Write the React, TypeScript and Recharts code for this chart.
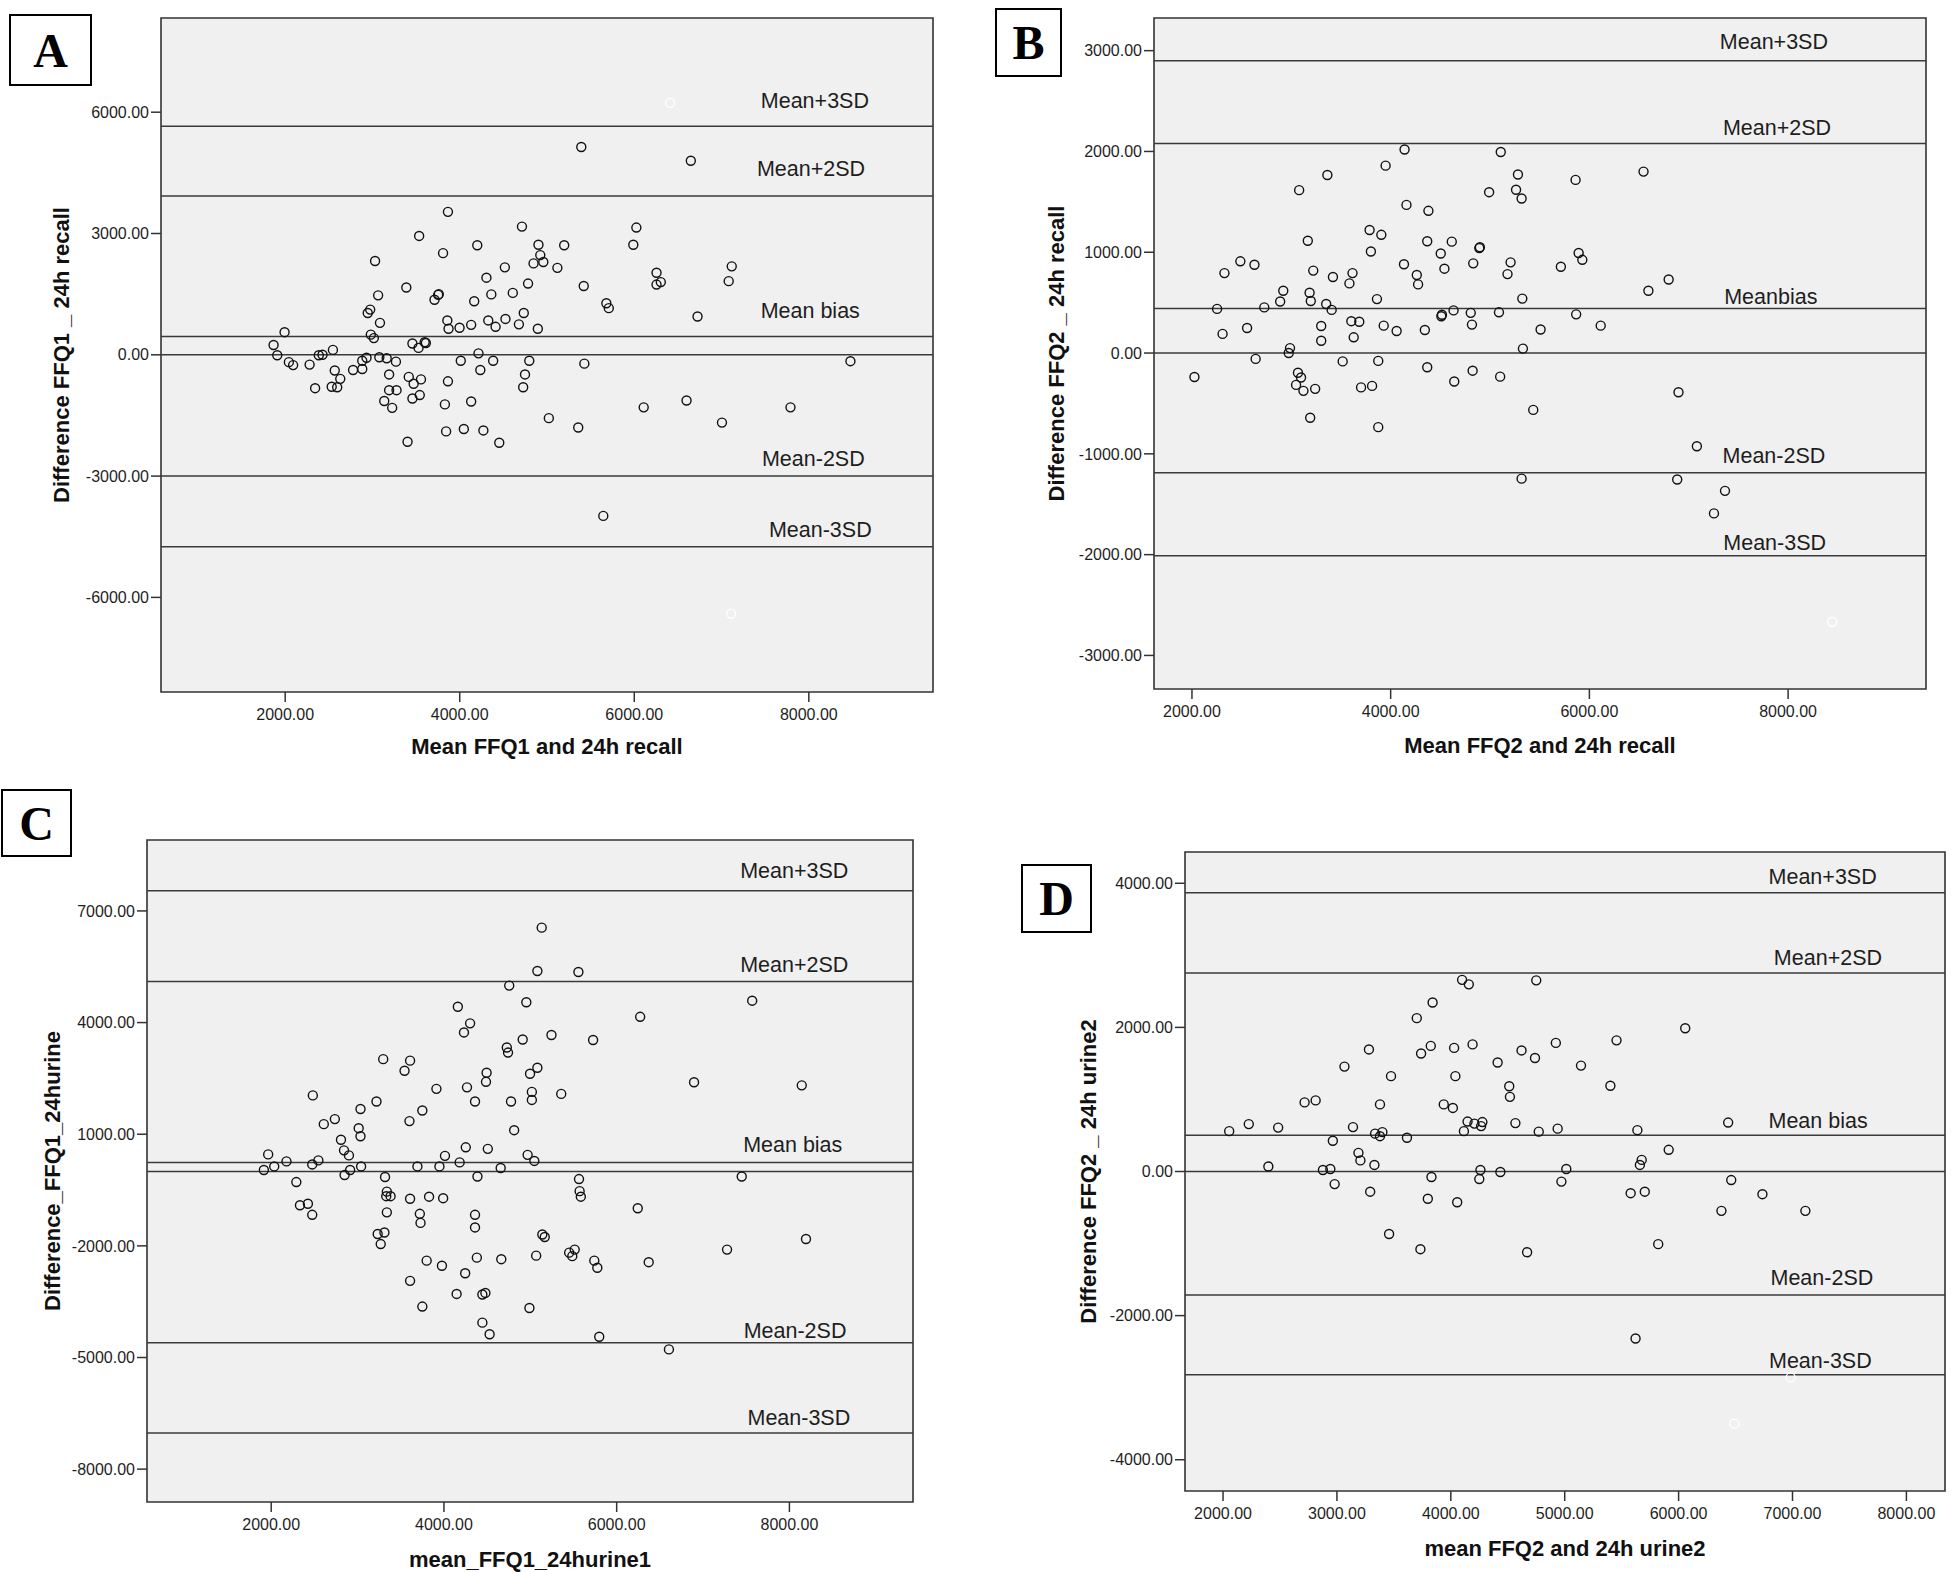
import React from "react";
import {
  ScatterChart,
  Scatter,
  XAxis,
  YAxis,
  ReferenceLine,
  ReferenceArea,
} from "recharts";

const FONT = '"Liberation Sans", Arial, sans-serif';
const SERIF = '"Liberation Serif", "Times New Roman", serif';

// ---- Panel A: FFQ1 vs 24h recall ----
const meanA = [
  1867, 1909, 1993, 2042, 2091, 2280, 2343, 2385, 2428, 2547,
  2568, 2533, 2596, 2631, 2778, 2883, 2883, 2932, 2946, 2974,
  2981, 3016, 3030, 3065, 3086, 3079, 3163, 3191, 3269, 3135,
  3191, 3276, 3226, 3388, 3402, 3416, 3458, 3472, 3458, 3528,
  3535, 3556, 3542, 3612, 3598, 3711, 3753, 3760, 3809, 3830,
  3844, 3858, 3872, 3865, 3865, 3998, 4012, 4047, 4131, 4131,
  4166, 4201, 4215, 4236, 4271, 4306, 4327, 4362, 4383, 4411,
  4453, 4517, 4524, 4608, 4678, 4713, 4734, 4727, 4748, 4783,
  4797, 4846, 4895, 4902, 4923, 4958, 5021, 5119, 5197, 5358,
  5393, 5421, 5428, 5645, 5680, 5708, 5989, 6024, 6108, 6255,
  6255, 6304, 6599, 6648, 6725, 7005, 7082, 7117, 7790, 8477,
];
const diffA = [
  243, -12, 559, -182, -255, -243, -826, -12, 0, 121,
  -389, -790, -802, -595, -377, -352, -146, -73, 1033, 1118,
  498, 413, 2320, 1470, 790, -61, -85, -486, -170, -1142,
  -875, -875, -1312, 1665, -2151, -547, 279, -717, -1081, 170,
  2940, -608, -996, 292, 310, 1361, 1482, 1500, 2515, -1227,
  -1895, 850, 644, -656, 3535, 668, -146, -1835, 741, -1154,
  1324, 2709, 36, -377, -1871, 1907, 850, 1494, -146, 692,
  -2175, 2163, 887, 1531, 753, 3171, 1033, -802, -486, 1762,
  -146, 2260, 644, 2722, 2466, 2296, -1567, 2150, 2709, -1798,
  5139, 1701, -219, -3985, 1276, 1154, 2722, 3147, -1300, 2029,
  1737, 1798, -1130, 4799, 948, -1677, 1822, 2187, -1300, -158,
];
const hiddenMeanA = [6410, 7110];
const hiddenDiffA = [6230, -6400];
const limitsA = [5650, 3925, 450, 0, -3000, -4750];
const limitNamesA = ["Mean+3SD", "Mean+2SD", "Mean bias", "", "Mean-2SD", "Mean-3SD"];
const xTicksA = [2000, 4000, 6000, 8000];
const yTicksA = [-6000, -3000, 0, 3000, 6000];

// ---- Panel B: FFQ2 vs 24h recall ----
const meanB = [
  2025, 2253, 2308, 2327, 2487, 2555, 2629, 2641, 2728, 2888,
  2919, 2974, 2987, 3079, 3067, 3098, 3048, 3122, 3166, 3184,
  3196, 3221, 3190, 3240, 3301, 3301, 3351, 3363, 3406, 3419,
  3517, 3585, 3604, 3616, 3628, 3684, 3702, 3788, 3801, 3813,
  3862, 3875, 3875, 3906, 3930, 3949, 4060, 4134, 4140, 4159,
  4263, 4276, 4344, 4368, 4368, 4380, 4504, 4510, 4516, 4541,
  4615, 4633, 4640, 4806, 4818, 4825, 4831, 4892, 4898, 4991,
  5090, 5102, 5108, 5176, 5207, 5262, 5281, 5318, 5325, 5331,
  5318, 5435, 5509, 5713, 5861, 5867, 5892, 5929, 6114, 6545,
  6594, 6798, 6897, 6884, 7082, 7254, 7365,
];
const diffB = [
  -238, 438, 190, 793, 910, 248, 876, -58, 453, 511,
  618, 0, 49, 1616, -195, -243, -316, -375, 1114, 598,
  516, 818, -642, -355, 268, 122, 487, 1766, 428, 754,
  -83, 691, 316, 793, 156, 311, -341, 1221, 1007, -326,
  535, -78, -735, 1173, 272, 1859, 219, 881, 2019, 1470,
  774, 681, 229, -141, 1109, 1411, 988, 365, 380, 837,
  1105, 423, -282, 399, 282, -175, 890, 1041, 1050, 1596,
  404, -234, 1995, 783, 900, 1620, 1771, 1533, 540, 44,
  -1246, -564, 234, 856, 1718, 384, 993, 925, 272, 1800,
  618, 730, -389, -1255, -925, -1591, -1367,
];
const hiddenMeanB = [8444];
const hiddenDiffB = [-2667];
const limitsB = [2900, 2078, 443, 0, -1187, -2010];
const limitNamesB = ["Mean+3SD", "Mean+2SD", "Meanbias", "", "Mean-2SD", "Mean-3SD"];
const xTicksB = [2000, 4000, 6000, 8000];
const yTicksB = [-3000, -2000, -1000, 0, 1000, 2000, 3000];

// ---- Panel C: FFQ1 vs 24h urine ----
const meanC = [
  1915, 1965, 2035, 2177, 2291, 2333, 2425, 2475, 2475, 2482,
  2546, 2609, 2737, 2808, 2843, 2850, 2900, 2914, 3013, 3034,
  3034, 3041, 3219, 3233, 3268, 3297, 3311, 3318, 3332, 3339,
  3339, 3382, 3544, 3608, 3601, 3608, 3608, 3693, 3721, 3729,
  3750, 3750, 3800, 3828, 3913, 3948, 3977, 3991, 4012, 4147,
  4161, 4182, 4232, 4246, 4253, 4267, 4303, 4360, 4360, 4360,
  4381, 4388, 4445, 4445, 4480, 4487, 4494, 4508, 4529, 4657,
  4664, 4728, 4742, 4756, 4777, 4813, 4912, 4954, 4969, 4990,
  4997, 5018, 5018, 5047, 5068, 5082, 5082, 5132, 5139, 5167,
  5245, 5358, 5450, 5486, 5514, 5557, 5564, 5571, 5585, 5727,
  5741, 5776, 5798, 6244, 6272, 6371, 6605, 6896, 7278, 7448,
  7569, 8143, 8192,
];
const diffC = [
  39, 458, 134, 269, -286, -909, -869, -1166, 188, 2043,
  296, 1271, 1406, 851, 567, -97, 431, 39, 1162, 946,
  1677, 134, 1880, -1681, -1952, 3017, -1640, -151, -665, -544,
  -1099, -665, 2706, 2977, 1352, -733, -2940, 134, -1139, -1383,
  1636, -3631, -2398, -679, 2219, 134, -2534, -719, 418, -3292,
  4426, 242, 3735, -2737, 648, 2259, 3979, 1880, -1166, -1505,
  -2317, -137, -4064, -3306, -3265, 2408, 2652, 607, -4375, 93,
  -2358, 3329, 3194, 4994, 1880, 1108, 3546, 4547, 445, -3671,
  2625, 2137, 1921, 282, -2263, 2787, 5387, 6551, -1694, -1762,
  3667, 2083, -2182, -2277, -2101, 5360, -205, -530, -679, 3532,
  -2398, -2588, -4443, -990, 4155, -2439, -4782, 2395, -2101, -137,
  4588, 2313, -1816,
];
const hiddenMeanC: number[] = [];
const hiddenDiffC: number[] = [];
const limitsC = [7539, 5102, 242, 0, -4605, -7028];
const limitNamesC = ["Mean+3SD", "Mean+2SD", "Mean bias", "", "Mean-2SD", "Mean-3SD"];
const xTicksC = [2000, 4000, 6000, 8000];
const yTicksC = [-8000, -5000, -2000, 1000, 4000, 7000];

// ---- Panel D: FFQ2 vs 24h urine ----
const meanD = [
  2054, 2226, 2398, 2484, 2716, 2813, 2877, 2942, 2964, 2980,
  3066, 3141, 3189, 3206, 3281, 3292, 3329, 3335, 3378, 3378,
  3399, 3458, 3475, 3615, 3701, 3733, 3739, 3798, 3824, 3830,
  3840, 3938, 4018, 4029, 4040, 4056, 4099, 4115, 4147, 4158,
  4191, 4207, 4250, 4260, 4266, 4277, 4411, 4435, 4513, 4519,
  4567, 4621, 4670, 4739, 4750, 4772, 4922, 4938, 4971, 5014,
  5143, 5401, 5455, 5579, 5622, 5638, 5660, 5676, 5703, 5821,
  5913, 6058, 6376, 6435, 6462, 6736, 7113,
];
const diffD = [
  560, 658, 70, 609, 959, 987, 21, 35, 427, -175,
  1456, 616, 259, 154, 1694, -280, 91, 525, 931, 490,
  546, -868, 1323, 469, 2128, -1078, 1638, -378, 1743, -77,
  2345, 931, 882, 1715, 1323, -427, 2660, 560, 693, 2597,
  1764, 665, -105, 21, 630, 686, 1512, -7, 1183, 1036,
  672, 1680, -1120, 1575, 2653, 553, 1785, 595, -140, 35,
  1470, 1190, 1820, -301, -2317, 574, 91, 161, -280, -1008,
  301, 1988, -546, 679, -119, -315, -546,
];
const hiddenMeanD = [6984, 6490];
const hiddenDiffD = [-2856, -3500];
const limitsD = [3867, 2756, 504, 0, -1715, -2821];
const limitNamesD = ["Mean+3SD", "Mean+2SD", "Mean bias", "", "Mean-2SD", "Mean-3SD"];
const xTicksD = [2000, 3000, 4000, 5000, 6000, 7000, 8000];
const yTicksD = [-4000, -2000, 0, 2000, 4000];

// layout (pixel placement of each plot frame + label tweaks)
const AXW = 140;
const AXH = 80;
const MT = 10;
const MR = 6;

const fmt = (v: number) => v.toFixed(2);

const Ring = (props: any) => (
  <circle cx={props.cx} cy={props.cy} r={4.5} fill="none" stroke="#111" strokeWidth={1.4} />
);
const WhiteRing = (props: any) => (
  <circle cx={props.cx} cy={props.cy} r={4.5} fill="none" stroke="#ffffff" strokeWidth={1.3} />
);

const LimitLabel = (props: any) => {
  const { viewBox, text, frac, dy } = props;
  if (!viewBox || !text) return null;
  return (
    <text
      x={viewBox.x + viewBox.width * frac}
      y={viewBox.y - dy}
      textAnchor="middle"
      fontSize={21.5}
      fontFamily={FONT}
      fill="#1e1e1e"
    >
      {text}
    </text>
  );
};

const XTitle = (props: any) => {
  const { viewBox, text, drop } = props;
  if (!viewBox) return null;
  return (
    <text
      x={viewBox.x + viewBox.width / 2}
      y={viewBox.y + drop}
      textAnchor="middle"
      fontSize={22}
      fontWeight="bold"
      fontFamily={FONT}
      fill="#111"
    >
      {text}
    </text>
  );
};

const YTitle = (props: any) => {
  const { viewBox, text, gap } = props;
  if (!viewBox) return null;
  const cx = viewBox.x + viewBox.width - gap;
  const cy = viewBox.y + viewBox.height / 2;
  return (
    <text
      x={cx}
      y={cy}
      transform={`rotate(-90 ${cx} ${cy})`}
      textAnchor="middle"
      dominantBaseline="central"
      fontSize={22}
      fontWeight="bold"
      fontFamily={FONT}
      fill="#111"
    >
      {text}
    </text>
  );
};

const panels = [
  {
    letter: "A",
    box: { left: 9, top: 14, width: 83, height: 72 },
    plot: { left: 161, top: 18, right: 933, bottom: 692 },
    xDomain: [577, 9423],
    yDomain: [-8340, 8330],
    means: meanA, diffs: diffA, hMeans: hiddenMeanA, hDiffs: hiddenDiffA,
    limits: limitsA, names: limitNamesA, xTicks: xTicksA, yTicks: yTicksA,
    fracs: [0.847, 0.842, 0.841, 0, 0.845, 0.854],
    dys: [18, 20, 19, 0, 10, 10],
    xTitle: "Mean FFQ1 and 24h recall",
    yTitle: "Difference FFQ1 _ 24h recall",
    yGap: 100, xDrop: 62,
  },
  {
    letter: "B",
    box: { left: 995, top: 8, width: 67, height: 69 },
    plot: { left: 1154, top: 18, right: 1926, bottom: 689 },
    xDomain: [1618, 9388],
    yDomain: [-3333, 3324],
    means: meanB, diffs: diffB, hMeans: hiddenMeanB, hDiffs: hiddenDiffB,
    limits: limitsB, names: limitNamesB, xTicks: xTicksB, yTicks: yTicksB,
    fracs: [0.803, 0.807, 0.799, 0, 0.803, 0.804],
    dys: [12, 9, 4, 0, 10, 6],
    xTitle: "Mean FFQ2 and 24h recall",
    yTitle: "Difference FFQ2 _ 24h recall",
    yGap: 98, xDrop: 64,
  },
  {
    letter: "C",
    box: { left: 1, top: 789, width: 71, height: 68 },
    plot: { left: 147, top: 840, right: 913, bottom: 1502 },
    xDomain: [562, 9431],
    yDomain: [-8883, 8906],
    means: meanC, diffs: diffC, hMeans: hiddenMeanC, hDiffs: hiddenDiffC,
    limits: limitsC, names: limitNamesC, xTicks: xTicksC, yTicks: yTicksC,
    fracs: [0.845, 0.845, 0.843, 0, 0.846, 0.851],
    dys: [13, 10, 10, 0, 5, 8],
    xTitle: "mean_FFQ1_24hurine1",
    yTitle: "Difference_FFQ1_24hurine",
    yGap: 95, xDrop: 65,
  },
  {
    letter: "D",
    box: { left: 1021, top: 864, width: 71, height: 69 },
    plot: { left: 1185, top: 852, right: 1945, bottom: 1491 },
    xDomain: [1666, 8339],
    yDomain: [-4434, 4434],
    means: meanD, diffs: diffD, hMeans: hiddenMeanD, hDiffs: hiddenDiffD,
    limits: limitsD, names: limitNamesD, xTicks: xTicksD, yTicks: yTicksD,
    fracs: [0.839, 0.846, 0.833, 0, 0.838, 0.836],
    dys: [9, 8, 7, 0, 10, 7],
    xTitle: "mean FFQ2 and 24h urine2",
    yTitle: "Difference FFQ2 _ 24h urine2",
    yGap: 97, xDrop: 65,
  },
];

const tickStyle = { fontSize: 16, fill: "#1e1e1e", fontFamily: FONT };

const BlandAltman = ({ p }: { p: (typeof panels)[number] }) => {
  const plotW = p.plot.right - p.plot.left;
  const plotH = p.plot.bottom - p.plot.top;
  const data = p.means.map((m, i) => ({ x: m, y: p.diffs[i] }));
  const hidden = p.hMeans.map((m, i) => ({ x: m, y: p.hDiffs[i] }));
  return (
    <div style={{ position: "absolute", left: p.plot.left - AXW, top: p.plot.top - MT }}>
      <ScatterChart
        width={plotW + AXW + MR}
        height={plotH + MT + AXH}
        margin={{ top: MT, right: MR, bottom: 0, left: 0 }}
      >
        <XAxis
          type="number"
          dataKey="x"
          domain={p.xDomain}
          allowDataOverflow
          ticks={p.xTicks}
          tickFormatter={fmt}
          height={AXH}
          axisLine={false}
          tickSize={10}
          tickMargin={7}
          tickLine={{ stroke: "#333", strokeWidth: 1.5 }}
          tick={tickStyle}
          interval={0}
          label={<XTitle text={p.xTitle} drop={p.xDrop} />}
        />
        <YAxis
          type="number"
          dataKey="y"
          domain={p.yDomain}
          allowDataOverflow
          ticks={p.yTicks}
          tickFormatter={fmt}
          width={AXW}
          axisLine={false}
          tickSize={10}
          tickMargin={2}
          tickLine={{ stroke: "#333", strokeWidth: 1.5 }}
          tick={tickStyle}
          interval={0}
          label={<YTitle text={p.yTitle} gap={p.yGap} />}
        />
        <ReferenceArea
          x1={p.xDomain[0]}
          x2={p.xDomain[1]}
          y1={p.yDomain[0]}
          y2={p.yDomain[1]}
          fill="#f0f0f0"
          fillOpacity={1}
          stroke="#333"
          strokeWidth={1.6}
        />
        {p.limits.map((v, i) => (
          <ReferenceLine
            key={i}
            y={v}
            stroke="#3a3a3a"
            strokeWidth={1.5}
            label={<LimitLabel text={p.names[i]} frac={p.fracs[i]} dy={p.dys[i]} />}
          />
        ))}
        <Scatter data={data} shape={Ring} isAnimationActive={false} />
        <Scatter data={hidden} shape={WhiteRing} isAnimationActive={false} />
      </ScatterChart>
    </div>
  );
};

export default function App() {
  return (
    <div
      style={{
        position: "absolute",
        left: 0,
        top: 0,
        width: 1952,
        height: 1572,
        background: "#fff",
        overflow: "hidden",
        fontFamily: FONT,
      }}
    >
      {panels.map((p) => (
        <React.Fragment key={p.letter}>
          <BlandAltman p={p} />
          <div
            style={{
              position: "absolute",
              left: p.box.left,
              top: p.box.top,
              width: p.box.width,
              height: p.box.height,
              boxSizing: "border-box",
              border: "2px solid #000",
              display: "flex",
              alignItems: "center",
              justifyContent: "center",
              fontFamily: SERIF,
              fontWeight: "bold",
              fontSize: 48,
              color: "#000",
              background: "#fff",
            }}
          >
            {p.letter}
          </div>
        </React.Fragment>
      ))}
    </div>
  );
}
